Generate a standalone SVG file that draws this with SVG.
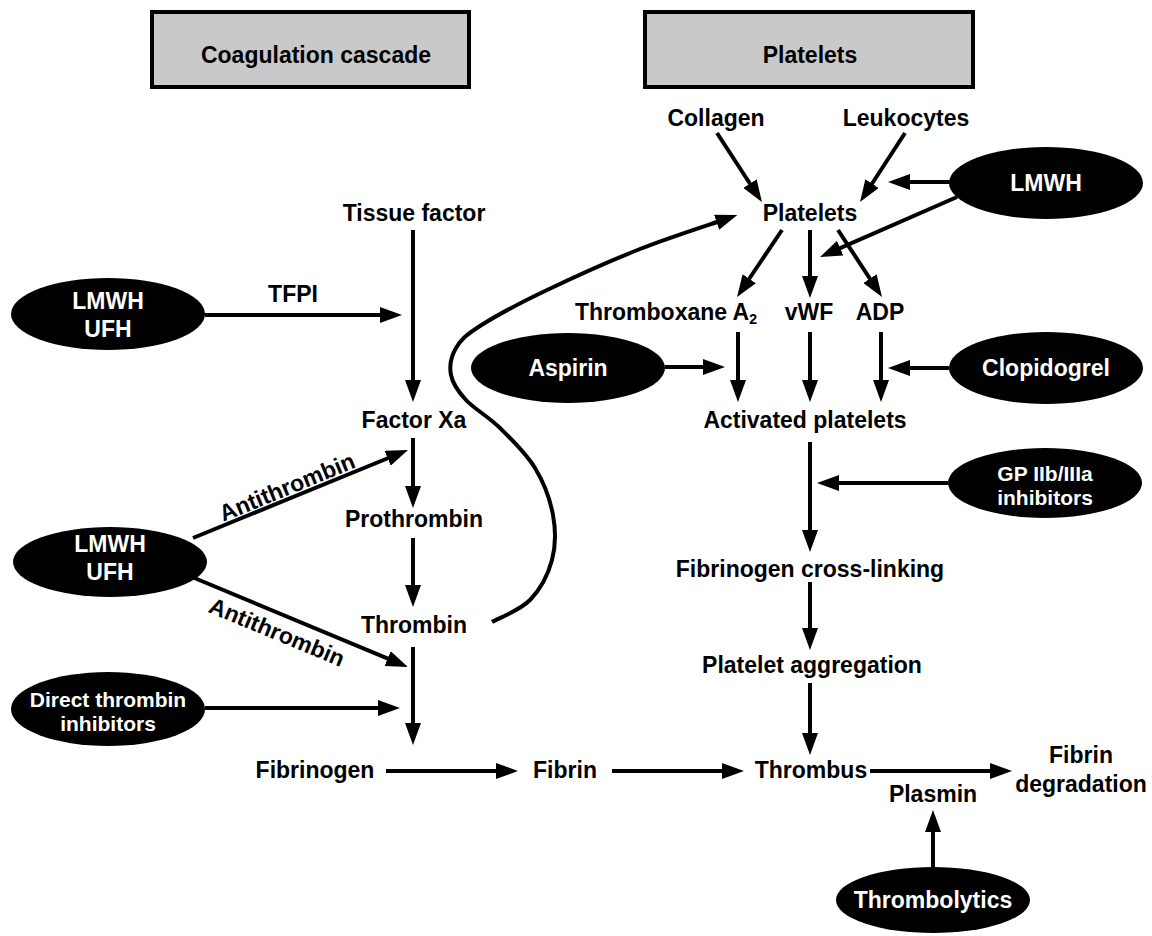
<svg xmlns="http://www.w3.org/2000/svg" width="1152" height="936" viewBox="0 0 1152 936">
<defs>
<style>
text{font-family:"Liberation Sans",Arial,Helvetica,sans-serif;font-weight:bold;font-size:23px;fill:#000;text-anchor:middle}
.w{fill:#fff}
.s{font-size:21px}
.hdr rect{fill:#c9c9c9;stroke:#000;stroke-width:4}
ellipse{fill:#000}
.c line,.c path{stroke:#000;stroke-width:4;fill:none;marker-end:url(#ah)}
</style>
<marker id="ah" markerUnits="userSpaceOnUse" markerWidth="22" markerHeight="16" refX="10" refY="8" orient="auto" viewBox="0 0 22 16">
<path d="M0,0 L22,8 L0,16 z" fill="#000"/>
</marker>
</defs>
<rect width="1152" height="936" fill="#fff"/>

<g id="hdr-coag" class="hdr"><rect x="152" y="12" width="317" height="75"/><text x="316" y="63">Coagulation cascade</text></g>
<g id="hdr-plt" class="hdr"><rect x="645" y="12" width="328" height="75"/><text x="810" y="63">Platelets</text></g>

<g id="collagen"><text x="716" y="126">Collagen</text></g>
<g id="leukocytes"><text x="906" y="126">Leukocytes</text></g>
<g id="platelets"><text x="810" y="221">Platelets</text></g>
<g id="lmwh-r"><ellipse cx="1046" cy="183" rx="97" ry="36"/><text class="w" x="1046" y="191">LMWH</text></g>
<g id="txa2"><text x="575" y="320" style="text-anchor:start">Thromboxane A<tspan font-size="14" dy="4">2</tspan></text></g>
<g id="vwf"><text x="809" y="320">vWF</text></g>
<g id="adp"><text x="880" y="320">ADP</text></g>
<g id="aspirin"><ellipse cx="568" cy="368" rx="97" ry="35"/><text class="w" x="568" y="376">Aspirin</text></g>
<g id="clopidogrel"><ellipse cx="1046" cy="368" rx="97" ry="36"/><text class="w" x="1046" y="376">Clopidogrel</text></g>
<g id="activated"><text x="805" y="428">Activated platelets</text></g>
<g id="gp"><ellipse cx="1045" cy="483" rx="97" ry="35"/><text class="w s" x="1045" y="481">GP IIb/IIIa</text><text class="w s" x="1045" y="505">inhibitors</text></g>
<g id="crosslink"><text x="810" y="577">Fibrinogen cross-linking</text></g>
<g id="aggregation"><text x="812" y="673">Platelet aggregation</text></g>
<g id="thrombus"><text x="811" y="778">Thrombus</text></g>
<g id="degradation"><text x="1081" y="763">Fibrin</text><text x="1081" y="792">degradation</text></g>
<g id="plasmin"><text x="933" y="802">Plasmin</text></g>
<g id="thrombolytics"><ellipse cx="933" cy="900" rx="97" ry="33"/><text class="w" x="933" y="908">Thrombolytics</text></g>

<g id="tissue"><text x="414" y="221">Tissue factor</text></g>
<g id="tfpi"><text x="293" y="302">TFPI</text></g>
<g id="lmwh-ufh1"><ellipse cx="108" cy="314" rx="97" ry="36"/><text class="w" x="108" y="309">LMWH</text><text class="w" x="108" y="337">UFH</text></g>
<g id="factorxa"><text x="414" y="428">Factor Xa</text></g>
<g id="prothrombin"><text x="414" y="527">Prothrombin</text></g>
<g id="thrombin"><text x="414" y="633">Thrombin</text></g>
<g id="lmwh-ufh2"><ellipse cx="110" cy="562" rx="97" ry="35"/><text class="w" x="110" y="552">LMWH</text><text class="w" x="110" y="580">UFH</text></g>
<g id="dti"><ellipse cx="108" cy="709" rx="97" ry="37"/><text class="w s" x="108" y="707">Direct thrombin</text><text class="w s" x="108" y="731">inhibitors</text></g>
<g id="fibrinogen"><text x="315" y="778">Fibrinogen</text></g>
<g id="fibrin"><text x="565" y="778">Fibrin</text></g>

<g id="connectors" class="c">
<line x1="717" y1="133" x2="755.4" y2="192"/>
<line x1="905" y1="133" x2="866.6" y2="192"/>
<line x1="950" y1="182" x2="900" y2="182"/>
<line x1="957" y1="197" x2="831" y2="252.2"/>
<line x1="782" y1="230" x2="743.7" y2="287"/>
<line x1="810" y1="230" x2="810" y2="286"/>
<line x1="838" y1="230" x2="875.4" y2="287"/>
<line x1="738" y1="332" x2="738" y2="390"/>
<line x1="810" y1="332" x2="810" y2="390"/>
<line x1="881" y1="332" x2="881" y2="390"/>
<line x1="665" y1="367" x2="713" y2="367"/>
<line x1="949" y1="368" x2="900" y2="368"/>
<line x1="810" y1="442" x2="810" y2="540"/>
<line x1="948" y1="483" x2="829" y2="483"/>
<line x1="810" y1="582" x2="810" y2="638"/>
<line x1="810" y1="683" x2="810" y2="743"/>
<line x1="870" y1="771" x2="1000" y2="771"/>
<line x1="933" y1="867" x2="933" y2="822"/>
<line x1="386" y1="771" x2="506" y2="771"/>
<line x1="612" y1="771" x2="732" y2="771"/>
<line x1="413" y1="230" x2="413" y2="390"/>
<line x1="205" y1="315" x2="390" y2="315"/>
<line x1="413" y1="438" x2="413" y2="496"/>
<line x1="413" y1="538" x2="413" y2="595"/>
<line x1="413" y1="647" x2="413" y2="733"/>
<line x1="193" y1="538" x2="396.9" y2="454.5"/>
<line x1="192" y1="577" x2="396.9" y2="662.4"/>
<line x1="205" y1="708" x2="388" y2="708"/>
<path d="M492,622 C498.3,618.3 520,610.3 530,600 C540,589.7 548.2,574.2 552,560 C555.8,545.8 555.8,530.3 553,515 C550.2,499.7 543.8,482.5 535,468 C526.2,453.5 511.5,439.3 500,428 C488.5,416.7 474.2,408.8 466,400 C457.8,391.2 452.7,383.7 451,375 C449.3,366.3 451.2,356.2 456,348 C460.8,339.8 465.2,335.5 480,326 C494.8,316.5 518.3,303.8 545,291 C571.7,278.2 609.8,261 640,249 C670.2,237 711.7,224 726,219"/>
</g>

<g id="labels">
<text transform="translate(287,487) rotate(-22.3)" x="0" y="8">Antithrombin</text>
<text transform="translate(277,632) rotate(22.6)" x="0" y="8">Antithrombin</text>
</g>
</svg>
